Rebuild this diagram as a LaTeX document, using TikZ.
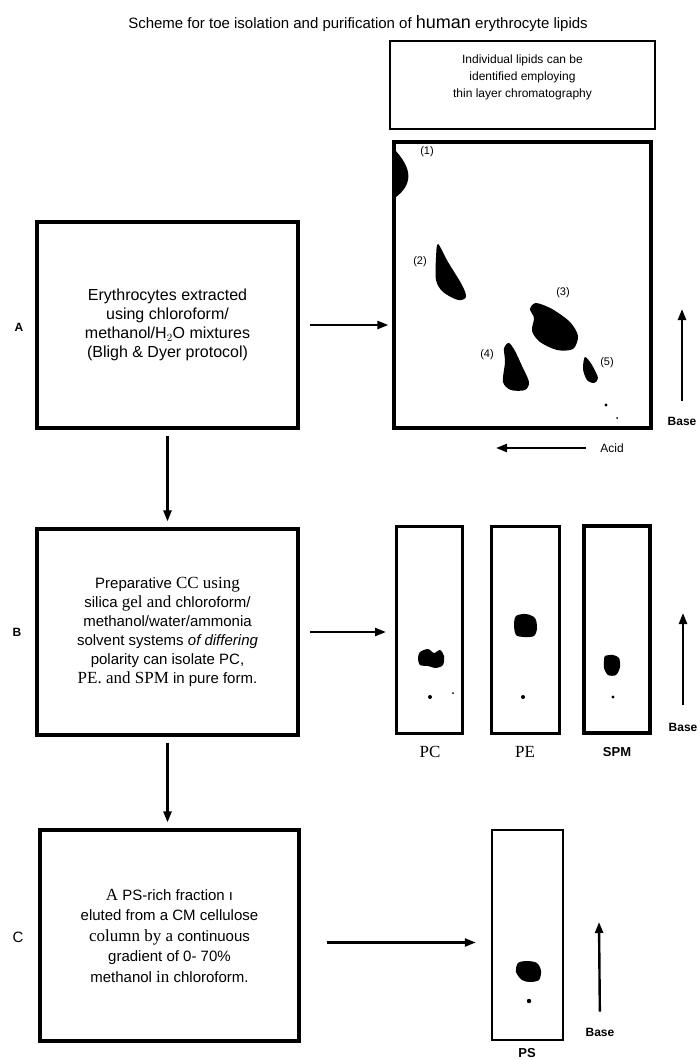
\documentclass[tikz,border=0pt]{standalone}
\usepackage{fontspec}
\setmainfont{Liberation Sans}
\newfontfamily\serifrm{Liberation Serif}
\usetikzlibrary{arrows.meta}
\newcommand\srf[1]{{\serifrm\fontsize{17}{19}\selectfont #1}}
\begin{document}
\begin{tikzpicture}[x=1pt,y=-1pt,
  arr/.style={line width=2.4pt,-{Triangle[length=11pt,width=8pt]}},
  bigbox/.style={draw,line width=3.2pt,minimum width=261pt,minimum height=206pt,inner sep=0pt,align=center},
  plate/.style={draw,line width=3pt,minimum width=66pt,minimum height=207pt,inner sep=0pt},
  spot/.style={fill=black},
  lbl/.style={font=\fontsize{11}{12}\selectfont,inner sep=0pt},
  basetxt/.style={font=\bfseries\fontsize{12}{13}\selectfont,inner sep=0pt},
  rowlbl/.style={font=\bfseries\fontsize{12}{13}\selectfont,inner sep=0pt}]
\useasboundingbox (0,0) rectangle (699,1060);
\fill[white] (0,0) rectangle (699,1060);

% title
\node (title) at (358,24) {\fontsize{15}{16}\selectfont Scheme for toe isolation and purification of {\fontsize{18}{18}\selectfont human} erythrocyte lipids};

% info box
\node[draw,line width=1.8pt,minimum width=265pt,minimum height=88pt,inner sep=0pt] (info) at (522.5,85) {};
\node[align=center,inner sep=0pt,font=\fontsize{12}{17}\selectfont] (infotxt) at (522.5,77)
  {Individual lipids can be\\identified employing\\thin layer chromatography};

% row A
\node[rowlbl] (la) at (19,327) {A};
\node[bigbox,font=\fontsize{16}{19}\selectfont] (A) at (167.5,325)
  {Erythrocytes extracted\\using chloroform/\\methanol/H$_2$O mixtures\\(Bligh \& Dyer protocol)};
\node[draw,line width=3.2pt,minimum width=257pt,minimum height=286pt,inner sep=0pt] (tlc) at (522.5,285) {};
\draw[arr,shorten <=10pt,shorten >=4pt] (A.east) -- (A.east -| tlc.west);

% spots in 2D TLC
\fill[spot] (395,150) .. controls (404,160) and (410,170) .. (408,180) .. controls (406,190) and (398,195) .. (395,198) -- cycle;
\fill[spot] plot[smooth cycle] coordinates {(438,244) (448,262) (462,285) (466,297) (458,300) (443,292) (436,280) (436,258)};
\fill[spot] plot[smooth cycle] coordinates {(536,303) (552,309) (570,322) (578,336) (573,349) (557,350) (540,342) (532,331) (534,318) (530,309)};
\fill[spot] plot[smooth cycle] coordinates {(509,343) (515,351) (522,366) (529,382) (525,390) (511,390) (503,382) (505,362) (504,348)};
\fill[spot] plot[smooth cycle] coordinates {(585,357) (592,365) (598,378) (594,383) (587,380) (583,369)};
\fill (606,405) circle (1.6);
\fill (617,418) circle (1);
\node[lbl] (s1) at (427,152) {(1)};
\node[lbl] (s2) at (420,262) {(2)};
\node[lbl] (s3) at (563,293) {(3)};
\node[lbl] (s4) at (487,355) {(4)};
\node[lbl] (s5) at (607,363) {(5)};

% acid / base arrows (A)
\node[font=\fontsize{12}{13}\selectfont,inner sep=0pt] (acid) at (612,448) {Acid};
\coordinate (acidtip) at (496,448);
\draw[arr,shorten <=14pt] (acid.west) -- (acidtip);
\node[basetxt] (baseA) at (682,421) {Base};
\coordinate (baseAtip) at (682,309);
\draw[arr,shorten <=16pt] (baseA.north) -- (baseAtip);

% row B
\node[rowlbl] (lb) at (17,632) {B};
\node[bigbox,font=\fontsize{15}{19}\selectfont] (B) at (167.5,632)
  {Preparative \srf{CC using}\\silica \srf{gel and} chloroform/\\methanol/water/ammonia\\solvent systems \textit{of differing}\\polarity can isolate PC,\\\srf{PE. and SPM} in pure form.};
\draw[arr,shorten <=6pt,shorten >=6pt] (A.south) -- (A.south |- B.north);

\node[plate] (pc) at (429.5,629.5) {};
\node[plate,minimum width=68pt] (pe) at (525,629.5) {};
\node[plate,line width=4pt] (spm) at (616.5,629.5) {};
\draw[arr,shorten <=10pt,shorten >=9pt] (B.east) -- (B.east -| pc.west);

\fill plot[smooth cycle] coordinates {(420,652) (428,649) (434,653) (440,650) (444,656) (443,665) (436,668) (428,666) (420,665) (418,658)};
\fill (430,697) circle (2);
\fill (453,693) circle (1);
\fill plot[smooth cycle] coordinates {(516,616) (526,614) (535,618) (537,628) (534,636) (524,637) (516,635) (514,625)};
\fill (523,697) circle (2);
\fill plot[smooth cycle] coordinates {(605,656) (613,655) (619,658) (620,667) (616,675) (608,675) (604,668) (604,661)};
\fill (613,697) circle (1.6);

\node[font=\serifrm\fontsize{17}{18}\selectfont,inner sep=0pt] (tpc) at (430,752) {PC};
\node[font=\serifrm\fontsize{17}{18}\selectfont,inner sep=0pt] (tpe) at (525,752) {PE};
\node[font=\bfseries\fontsize{13}{14}\selectfont,inner sep=0pt] (tspm) at (617,752) {SPM};
\node[basetxt] (baseB) at (683,727) {Base};
\coordinate (baseBtip) at (683,613);
\draw[arr,shorten <=18pt] (baseB.north) -- (baseBtip);

% row C
\node[font=\fontsize{15}{16}\selectfont,inner sep=0pt] (lc) at (18,937) {C};
\node[bigbox,minimum width=259pt,minimum height=211pt,font=\fontsize{15}{20.5}\selectfont] (C) at (169.5,935.5)
  {\srf{A} PS-rich fraction ı\\eluted from a CM cellulose\\\srf{column by a} continuous\\gradient of 0- 70\%\\methanol \srf{in} chloroform.};
\draw[arr,shorten <=6pt,shorten >=6pt] (B.south) -- (B.south |- C.north);

\node[plate,line width=2.5pt,minimum width=71pt,minimum height=210pt] (ps) at (527.5,935) {};
\draw[arr,shorten <=26pt,shorten >=15pt] ([yshift=-7pt]C.east) -- ([yshift=-7pt]C.east -| ps.west);
\fill plot[smooth cycle] coordinates {(518,963) (527,961) (537,963) (541,971) (539,980) (530,982) (522,980) (516,972)};
\fill (529,1001) circle (2.2);
\node[font=\bfseries\fontsize{13}{14}\selectfont,inner sep=0pt] (tps) at (527,1053) {PS};
\node[basetxt] (baseC) at (600,1032) {Base};
\coordinate (baseCtip) at (599,922);
\draw[arr,shorten <=16pt] (baseC.north) -- (baseCtip);
\end{tikzpicture}
\end{document}
